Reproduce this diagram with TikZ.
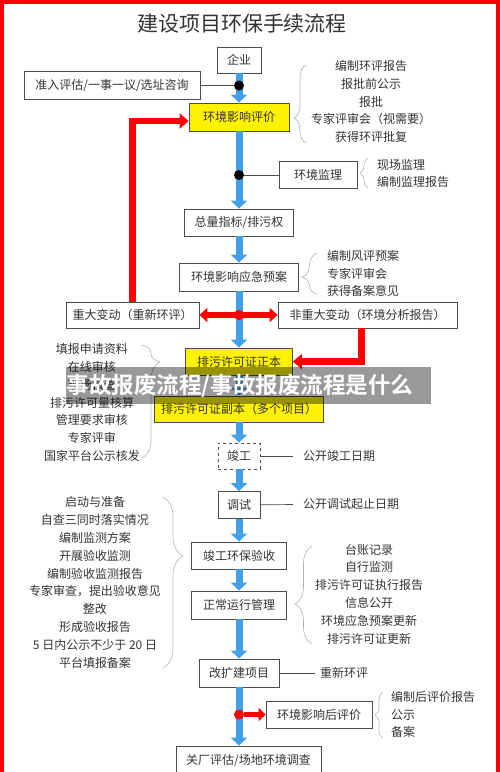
\documentclass[tikz,border=0pt]{standalone}
\usepackage{fontspec}
\setmainfont{Noto Sans CJK SC}[BoldFont={Noto Sans CJK SC Bold}]
\usetikzlibrary{arrows.meta,decorations.pathreplacing}
\definecolor{spineblue}{RGB}{64,160,234}
\tikzset{>=latex}

\begin{document}
\begin{tikzpicture}[x=1pt,y=-1pt,
  every node/.style={font=\fontsize{12}{17.8}\selectfont,text=black!80},
  box/.style={draw=black!70,line width=0.8pt,fill=white,inner sep=0pt,minimum height=27pt},
  ybox/.style={box,fill=yellow},
  note/.style={inner sep=0pt},
  dot/.style={circle,fill=black,inner sep=0pt,minimum size=10pt},
  spine/.style={line width=7pt,draw=spineblue,-{Triangle[width=16pt,length=8pt]}},
  redarr/.style={line width=6.5pt,draw=red,-{Triangle[width=15pt,length=9pt]}},
  redboth/.style={line width=6pt,draw=red,{Triangle[width=14pt,length=8pt]}-{Triangle[width=14pt,length=8pt]}},
  redshort/.style={line width=5pt,draw=red,-{Triangle[width=13pt,length=7pt]}},
  link/.style={draw=black!70,line width=0.7pt},
  curly/.style 2 args={draw=black!30,line width=0.6pt,decorate,decoration={brace,amplitude=#1,aspect=#2}}]
\useasboundingbox (0,0) rectangle (500,772);
\node[font=\fontsize{21}{24}\selectfont] (title) at (242,24) {建设项目环保手续流程};
\node[box,minimum width=44pt,minimum height=26pt] (qiye) at (239,60) {企业};
\node[box,minimum width=176pt,minimum height=28pt] (zhunru) at (112,85.5) {准入评估/一事一议/选址咨询};
\node[ybox,minimum width=100pt,minimum height=28pt] (pingjia) at (239,117) {环境影响评价};
\node[box,minimum width=78pt] (jianli) at (318,175) {环境监理};
\node[box,minimum width=109pt] (zongliang) at (239,222.5) {总量指标/排污权};
\node[box,minimum width=119pt,minimum height=28pt] (yuan) at (239,277) {环境影响应急预案};
\node[box,minimum width=133pt,minimum height=26pt] (zhongda) at (132.5,315) {重大变动（重新环评）};
\node[box,minimum width=179pt,minimum height=26pt] (feizhongda) at (367.5,315) {非重大变动（环境分析报告）};
\node[ybox,minimum width=107pt] (zhengben) at (239,361.5) {排污许可证正本};
\node[ybox,minimum width=169pt,minimum height=26pt] (fuben) at (239,409) {排污许可证副本（多个项目）};
\node[box,dashed,minimum width=42pt,minimum height=26pt] (jungong) at (239,456) {竣工};
\node[box,minimum width=42pt] (tiaoshi) at (239,505) {调试};
\node[box,minimum width=95pt] (yanshou) at (239,555.5) {竣工环保验收};
\node[box,minimum width=95pt,minimum height=28pt] (yunxing) at (239,605) {正常运行管理};
\node[box,minimum width=80pt,minimum height=28pt] (gaikuo) at (239,673) {改扩建项目};
\node[box,minimum width=106pt] (houpingjia) at (319,714.5) {环境影响后评价};
\node[box,minimum width=145pt,minimum height=28pt] (guanchang) at (248.5,760) {关厂评估/场地环境调查};
\draw[spine] (qiye) -- (pingjia);
\draw[spine] (pingjia) -- (zongliang);
\draw[spine] (zongliang) -- (yuan);
\draw[spine] (yuan) -- (zhengben);
\draw[spine] (zhengben) -- (fuben);
\draw[spine] (fuben) -- (jungong);
\draw[spine] (jungong) -- (tiaoshi);
\draw[spine] (tiaoshi) -- (yanshou);
\draw[spine] (yanshou) -- (yunxing);
\draw[spine] (yunxing) -- (gaikuo);
\draw[spine] (gaikuo) -- (gaikuo |- guanchang.north);
\node[dot] (d1) at (239,85.5) {};
\node[dot] (d2) at (239,175) {};
\draw[link] (zhunru) -- (d1);
\draw[link] (d2) -- (jianli);
\draw[redarr] (zhongda.north) |- ([yshift=-4pt]pingjia.west);
\draw[redarr] ([xshift=-6pt]feizhongda.south) |- (zhengben.east);
\draw[redboth] (zhongda) -- (feizhongda);
\node[dot,fill=red] (d3) at (239,315) {};
\node[dot,fill=red] (d4) at (239,714.5) {};
\draw[redshort] (d4) -- (houpingjia);
\node[note,align=center] (pjlist) at (371,101.5) {编制环评报告\\报批前公示\\报批\\专家评审会（视需要）\\获得环评批复};
\node[note,align=left,anchor=west] (jllist) at (377,173.5) {现场监理\\编制监理报告};
\node[note,align=left,anchor=west] (yalist) at (327,273.5) {编制风评预案\\专家评审会\\获得备案意见};
\node[note,align=center] (xklist) at (92,402.5) {填报申请资料\\在线审核\\现场核查\\排污许可量核算\\管理要求审核\\专家评审\\国家平台公示核发};
\node[note,anchor=west,inner xsep=10pt] (jgdate) at (293,456) {公开竣工日期};
\node[note,anchor=west,inner xsep=10pt] (tsdate) at (293,504) {公开调试起止日期};
\node[note,align=center] (yslist) at (95,582.5) {启动与准备\\自查三同时落实情况\\编制监测方案\\开展验收监测\\编制验收监测报告\\专家审查，提出验收意见\\整改\\形成验收报告\\5 日内公示不少于 20 日\\平台填报备案};
\node[note,align=center] (yxlist) at (369,594) {台账记录\\自行监测\\排污许可证执行报告\\信息公开\\环境应急预案更新\\排污许可证更新};
\node[note,anchor=west,inner xsep=5pt] (chongxin) at (315,673) {重新环评};
\node[note,align=left,anchor=west] (hplist) at (391,714.5) {编制后评价报告\\公示\\备案};
\draw[link] (jungong) -- (jgdate);
\draw[link] (tiaoshi) -- (tsdate);
\draw[link] (gaikuo) -- (chongxin);
\draw[curly={12pt}{0.32}] (306,143) -- (306,65);
\draw[curly={8pt}{0.5}] (368,188) -- (368,158);
\draw[curly={15pt}{0.41}] (317,294) -- (317,253);
\draw[curly={18pt}{0.15}] (142,345) -- (142,458);
\draw[curly={20pt}{0.345}] (163,497) -- (163,668);
\draw[curly={17pt}{0.41}] (312,644) -- (312,546);
\draw[curly={8pt}{0.5}] (383,738) -- (383,692);
\fill[black,opacity=0.4] (66,367) rectangle (431,404);
\node[font=\fontsize{22.5}{26}\selectfont\bfseries,text=white] (banner) at (240,385.5) {事故报废流程/事故报废流程是什么};
\draw[red,line width=4pt] (2,772) -- (2,2) -- (498,2) -- (498,772);
\end{tikzpicture}
\end{document}
